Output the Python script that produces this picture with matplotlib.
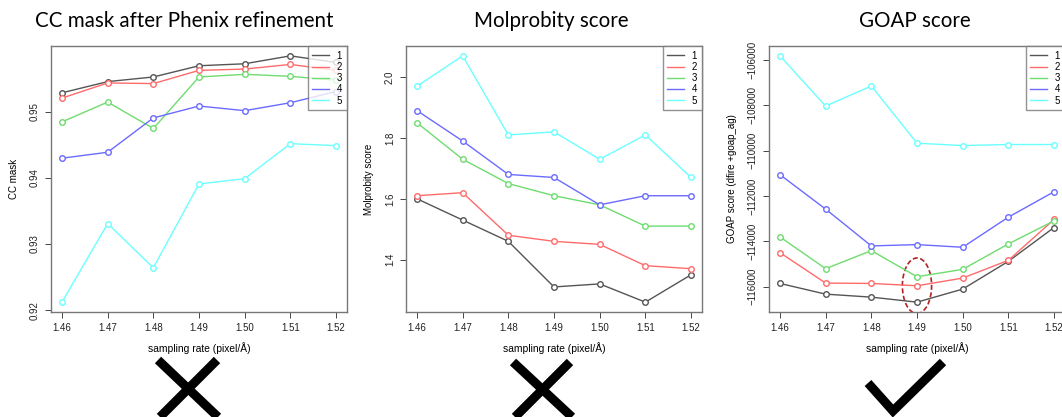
import matplotlib
matplotlib.use("Agg")
import matplotlib.pyplot as plt
from matplotlib.patches import Ellipse
from matplotlib.lines import Line2D

sampling = [1.46, 1.47, 1.48, 1.49, 1.50, 1.51, 1.52]
series_labels = ["1", "2", "3", "4", "5"]

cc_mask = [
    [0.9529, 0.9546, 0.9553, 0.9570, 0.9573, 0.9585, 0.9575],
    [0.9521, 0.9544, 0.9543, 0.9563, 0.9565, 0.9572, 0.9563],
    [0.9485, 0.9515, 0.9475, 0.9553, 0.9557, 0.9554, 0.9548],
    [0.9430, 0.9439, 0.9491, 0.9509, 0.9502, 0.9514, 0.9531],
    [0.9212, 0.9331, 0.9264, 0.9391, 0.9399, 0.9452, 0.9449],
]
molprobity = [
    [1.60, 1.53, 1.46, 1.31, 1.32, 1.26, 1.35],
    [1.61, 1.62, 1.48, 1.46, 1.45, 1.38, 1.37],
    [1.85, 1.73, 1.65, 1.61, 1.58, 1.51, 1.51],
    [1.89, 1.79, 1.68, 1.67, 1.58, 1.61, 1.61],
    [1.97, 2.07, 1.81, 1.82, 1.73, 1.81, 1.67],
]
goap = [
    [-115853, -116325, -116457, -116678, -116103, -114879, -113389],
    [-114496, -115838, -115853, -115956, -115617, -114835, -113035],
    [-113802, -115203, -114407, -115558, -115233, -114112, -113094],
    [-111059, -112578, -114200, -114142, -114260, -112932, -111811],
    [-105823, -108035, -107150, -109673, -109776, -109731, -109731],
]

titles = ["CC mask after Phenix refinement", "Molprobity score", "GOAP score"]
ylabels = ["CC mask", "Molprobity score", "GOAP score (dfire +goap_ag)"]
xlabel = "sampling rate (pixel/\u00c5)"
yticks = [
    [0.92, 0.93, 0.94, 0.95],
    [1.4, 1.6, 1.8, 2.0],
    [-116000, -114000, -112000, -110000, -108000, -106000],
]
ytick_labels = [
    ["0.92", "0.93", "0.94", "0.95"],
    ["1.4", "1.6", "1.8", "2.0"],
    ["\u2212116000", "\u2212114000", "\u2212112000", "\u2212110000", "\u2212108000", "\u2212106000"],
]
xtick_labels = ["1.46", "1.47", "1.48", "1.49", "1.50", "1.51", "1.52"]

colors = ["#555555", "#ff6b6b", "#6fdc6f", "#6b6bff", "#6bffff"]
tick_font = ["Liberation Sans Narrow", "Liberation Sans", "DejaVu Sans"]
title_font = ["Lato", "DejaVu Sans"]

W, H = 1062, 417
fig = plt.figure(figsize=(W / 100, H / 100), dpi=100)

lefts = [51, 406, 769]
ax_w, ax_top, ax_bot = 296, 46, 312
title_x = [184, 551, 915]
data_sets = [cc_mask, molprobity, goap]

axes = []
for i in range(3):
    ax = fig.add_axes([lefts[i] / W, 1 - ax_bot / H, ax_w / W, (ax_bot - ax_top) / H])
    axes.append(ax)
    handles = []
    for s, vals in enumerate(data_sets[i]):
        ax.plot(sampling, vals, color=colors[s], lw=1.0, marker="o", ms=4.0,
                mfc="white", mec=colors[s], mew=1.0)
        handles.append(Line2D([], [], color=colors[s], lw=1.0, label=series_labels[s]))
    ax.margins(x=0.04, y=0.04)
    ax.set_xticks(sampling)
    ax.set_xticklabels(xtick_labels, fontsize=7, family=tick_font)
    ax.set_yticks(yticks[i])
    ax.set_yticklabels(ytick_labels[i], fontsize=7, family=tick_font, rotation=90, va="center")
    ax.tick_params(direction="out", length=4, width=0.7, colors="#444444", labelcolor="#222222", pad=4)
    for sp in ax.spines.values():
        sp.set_color("#777777")
        sp.set_linewidth(1.0)
    ax.set_ylabel(ylabels[i], fontsize=7, family=tick_font, labelpad=8)
    leg = ax.legend(handles=handles, loc="upper right", frameon=True, fancybox=False,
                    borderaxespad=0, handlelength=1.7, handletextpad=0.8,
                    labelspacing=0.12, borderpad=0.5,
                    prop={"family": tick_font, "size": 7})
    leg.get_frame().set_edgecolor("#777777")
    leg.get_frame().set_linewidth(1.0)
    fig.text(title_x[i] / W, 1 - 21 / H, titles[i], ha="center", va="center",
             fontsize=14.8, family=title_font)
    fig.text((lefts[i] + ax_w / 2) / W, 1 - 348 / H, xlabel, ha="center", va="center",
             fontsize=7.4, family=tick_font)

# Red dashed ellipse around the GOAP minimum at 1.49
axes[2].add_patch(Ellipse((1.49, -115956), width=0.0064, height=2450, fill=False,
                          edgecolor="#b22222", lw=1.2, ls=(0, (3, 1.5))))

# Verdict marks (cross, cross, check) in pixel coordinates of the figure
def px(x, y):
    return x / W, 1 - y / H

marks = [
    [[(158, 360), (218, 417)], [(217, 360), (160, 417)]],
    [[(513, 362), (572, 417)], [(570, 362), (515, 417)]],
    [[(868, 383), (893, 411), (943, 362)]],
]
for mark in marks:
    for path in mark:
        pts = [px(*p) for p in path]
        fig.add_artist(Line2D([p[0] for p in pts], [p[1] for p in pts], color="black",
                              lw=6.5, solid_capstyle="butt", solid_joinstyle="miter",
                              transform=fig.transFigure))

fig.savefig("out.png", dpi=100)
